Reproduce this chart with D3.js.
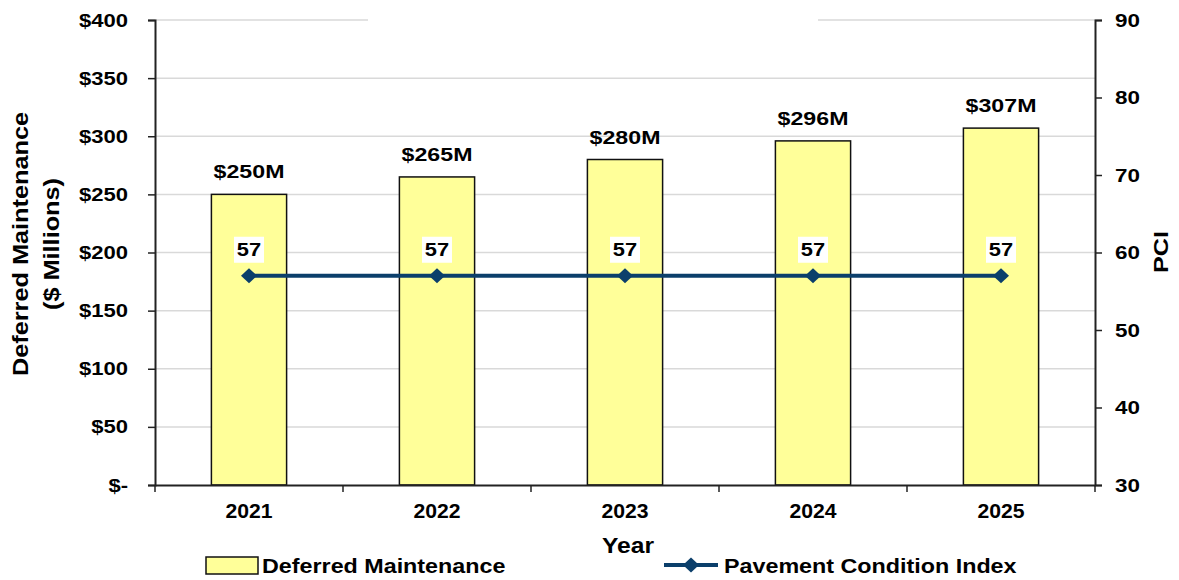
<!DOCTYPE html>
<html>
<head>
<meta charset="utf-8">
<script src="https://cdn.jsdelivr.net/npm/d3@7"></script>
<style>
  body { margin: 0; background: #fff; }
  text { font-family: "Liberation Sans", Arial, sans-serif; font-weight: bold; fill: #000; }
</style>
</head>
<body>
<div id="chart"></div>
<script>
// chart data
let years = ["2021", "2022", "2023", "2024", "2025"];
let deferred = [250, 265, 280, 296, 307];
let pci = [57, 57, 57, 57, 57];
let leftTicks = [0, 50, 100, 150, 200, 250, 300, 350, 400];
let rightTicks = [30, 40, 50, 60, 70, 80, 90];

const svgW = 1179;
const svgH = 580;
const m = {top: 20, right: 84, bottom: 95, left: 155};
const navy = "#0b3f6b";

const svg = d3.select("#chart")
    .append("svg")
        .attr("width", svgW)
        .attr("height", svgH);

// the original text looks stretched sideways, so widen it a bit
function stretch(sel, k) {
    sel.each(function() {
        let t = d3.select(this);
        let tx = +t.attr("x") || 0;
        let ty = +t.attr("y") || 0;
        t.attr("x", 0).attr("y", 0)
            .attr("transform", `translate(${tx},${ty}) scale(${k},1)`);
    });
}

let x = d3.scaleBand()
    .domain(years)
    .range([m.left, svgW - m.right])
    .padding(0);
let y = d3.scaleLinear()
    .domain([0, 400])
    .range([svgH - m.bottom, m.top]);
let yR = d3.scaleLinear()
    .domain([30, 90])
    .range([svgH - m.bottom, m.top]);

// gridlines
svg.append("g")
    .selectAll("line")
    .data(leftTicks.slice(1))
    .join("line")
    .attr("x1", m.left)
    .attr("x2", svgW - m.right)
    .attr("y1", d => y(d))
    .attr("y2", d => y(d))
    .attr("stroke", "#d9d9d9")
    .attr("stroke-width", 1.5);

// blank title box covering part of top gridline
svg.append("rect")
    .attr("x", 368).attr("y", y(400) - 5)
    .attr("width", 450).attr("height", 10)
    .attr("fill", "#fff");

// bars
let barW = x.bandwidth() * 0.4;
svg.append("g")
    .selectAll("rect")
    .data(deferred)
    .join("rect")
    .attr("x", (d, i) => x(years[i]) + (x.bandwidth() - barW) / 2)
    .attr("y", d => y(d))
    .attr("width", barW)
    .attr("height", d => y(0) - y(d))
    .attr("fill", "#ffff99")
    .attr("stroke", "#111")
    .attr("stroke-width", 1.5);

// bar labels
svg.append("g")
    .selectAll("text")
    .data(deferred)
    .join("text")
    .attr("x", (d, i) => x(years[i]) + x.bandwidth() / 2)
    .attr("y", d => y(d) - 16)
    .attr("text-anchor", "middle")
    .style("font-size", "19px")
    .text(d => `$${d}M`)
    .call(stretch, 1.22);

// left axis
let axL = svg.append("g")
    .attr("transform", `translate(${m.left},0)`)
    .call(d3.axisLeft(y).tickValues(leftTicks).tickSize(7).tickPadding(20)
        .tickFormat(d => d === 0 ? "$-" : `$${d}`));
axL.selectAll("text").style("font-size", "19px").call(stretch, 1.16);

// right axis
let axR = svg.append("g")
    .attr("transform", `translate(${svgW - m.right},0)`)
    .call(d3.axisRight(yR).tickValues(rightTicks).tickSize(7).tickPadding(13));
axR.selectAll("text").style("font-size", "19px").call(stretch, 1.18);

// bottom axis
let axB = svg.append("g")
    .attr("transform", `translate(0,${y(0)})`)
    .call(d3.axisBottom(x).tickSize(0).tickPadding(19));
axB.selectAll("text").style("font-size", "20px").call(stretch, 1.06);
svg.append("g")
    .selectAll("line")
    .data(years.map(d => x(d)).concat([x.range()[1]]))
    .join("line")
    .attr("x1", d => d).attr("x2", d => d)
    .attr("y1", y(0)).attr("y2", y(0) + 7)
    .attr("stroke", "#222")
    .attr("stroke-width", 1.5);

[axL, axR, axB].forEach(a => {
    a.select(".domain").attr("stroke", "#222").attr("stroke-width", 2);
    a.selectAll(".tick line").attr("stroke", "#222").attr("stroke-width", 1.5);
});

// PCI line
let pts = pci.map((d, i) => [x(years[i]) + x.bandwidth() / 2, yR(d)]);
svg.append("path")
    .datum(pts)
    .attr("d", d3.line())
    .attr("fill", "none")
    .attr("stroke", navy)
    .attr("stroke-width", 4);

let diamond = "M0,-7.5L8,0L0,7.5L-8,0Z";
svg.append("g")
    .selectAll("path")
    .data(pts)
    .join("path")
    .attr("transform", d => `translate(${d[0]},${d[1]})`)
    .attr("d", diamond)
    .attr("fill", navy);

// PCI labels with white boxes
let lbl = svg.append("g")
    .selectAll("g")
    .data(pci)
    .join("g")
    .attr("transform", (d, i) => `translate(${pts[i][0]},${pts[i][1] - 26})`);
lbl.append("rect")
    .attr("x", -15).attr("y", -13)
    .attr("width", 30).attr("height", 26)
    .attr("fill", "#fff");
lbl.append("text")
    .attr("text-anchor", "middle")
    .attr("dy", "0.35em")
    .style("font-size", "19px")
    .text(d => d)
    .call(stretch, 1.15);

// axis titles
svg.append("text")
    .attr("transform", "translate(28,244) rotate(-90) scale(1.15,1)")
    .attr("text-anchor", "middle")
    .style("font-size", "22px")
    .text("Deferred Maintenance");
svg.append("text")
    .attr("transform", "translate(59,244) rotate(-90) scale(1.15,1)")
    .attr("text-anchor", "middle")
    .style("font-size", "22px")
    .text("($ Millions)");
svg.append("text")
    .attr("transform", "translate(1168,252) rotate(-90) scale(1.2,1)")
    .attr("text-anchor", "middle")
    .style("font-size", "21px")
    .text("PCI");
svg.append("text")
    .attr("x", 628).attr("y", 553)
    .attr("text-anchor", "middle")
    .style("font-size", "22px")
    .text("Year")
    .call(stretch, 1.12);

// legend
let leg = svg.append("g");
leg.append("rect")
    .attr("x", 206).attr("y", 557)
    .attr("width", 52).attr("height", 17)
    .attr("fill", "#ffff99")
    .attr("stroke", "#111")
    .attr("stroke-width", 1.5);
leg.append("text")
    .attr("x", 262).attr("y", 573)
    .style("font-size", "21px")
    .text("Deferred Maintenance")
    .call(stretch, 1.11);
leg.append("line")
    .attr("x1", 664).attr("x2", 718)
    .attr("y1", 565).attr("y2", 565)
    .attr("stroke", navy)
    .attr("stroke-width", 4);
leg.append("path")
    .attr("transform", "translate(691,565)")
    .attr("d", diamond)
    .attr("fill", navy);
leg.append("text")
    .attr("x", 724).attr("y", 573)
    .style("font-size", "21px")
    .text("Pavement Condition Index")
    .call(stretch, 1.11);
</script>
</body>
</html>
